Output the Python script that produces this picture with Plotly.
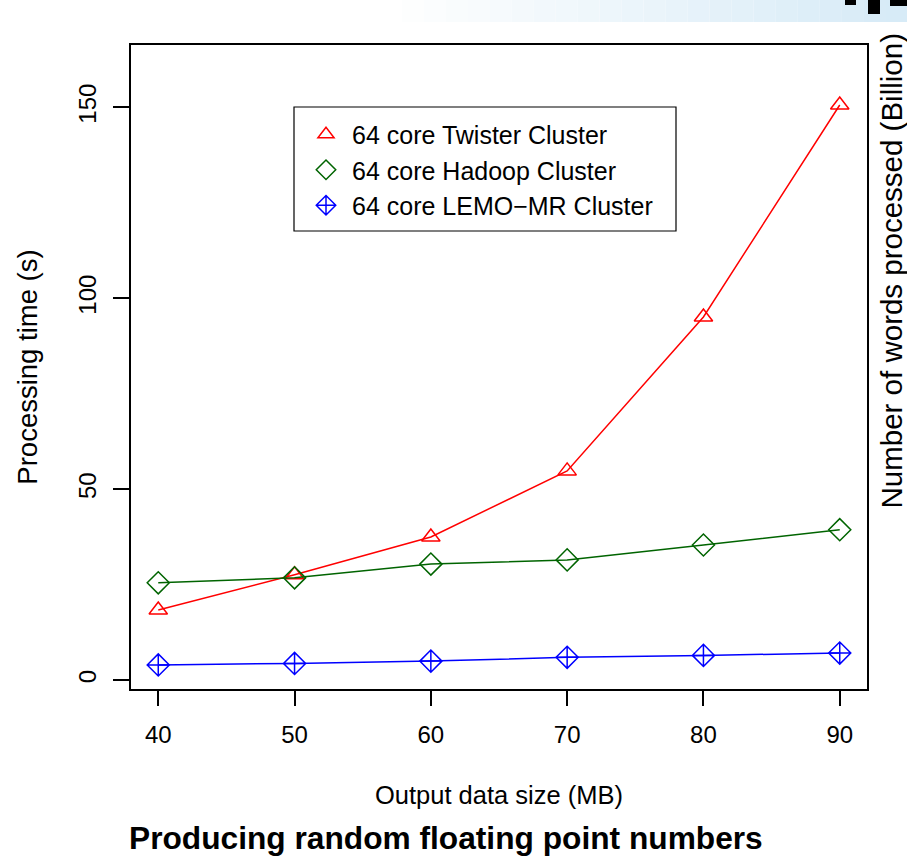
import plotly.graph_objects as go

# ---- data ----
sizes_mb = [40, 50, 60, 70, 80, 90]
twister_s = [18.4, 27.6, 37.5, 54.8, 95.1, 150.6]
hadoop_s = [25.5, 26.8, 30.4, 31.5, 35.4, 39.4]
lemo_s = [4.0, 4.4, 5.0, 6.0, 6.5, 7.1]
series_names = ["64 core Twister Cluster", "64 core Hadoop Cluster", "64 core LEMO\u2212MR Cluster"]
y_ticks = [0, 50, 100, 150]

FONT = "Liberation Sans, Arial, Helvetica, sans-serif"
W, H = 907, 858
L, R, T, B = 131, 40, 45, 169
PW, PH = W - L - R, H - T - B


def px(xp):
    return (xp - L) / PW


def py(yp):
    return (H - B - yp) / PH


styles = [
    dict(color="#FF0000", symbol="triangle-up-open", size=16),
    dict(color="#006400", symbol="diamond-open", size=17),
    dict(color="#0000FF", symbol="diamond-cross-open", size=17),
]
values = [twister_s, hadoop_s, lemo_s]

fig = go.Figure()
for name, vals, st in zip(series_names, values, styles):
    fig.add_trace(go.Scatter(
        x=sizes_mb, y=vals, mode="lines+markers", showlegend=False,
        line=dict(color=st["color"], width=1.5),
        marker=dict(symbol=st["symbol"], size=st["size"], color=st["color"],
                    line=dict(color=st["color"], width=1.5)),
    ))
for name, st in zip(series_names, styles):
    fig.add_trace(go.Scatter(
        x=[None], y=[None], mode="markers", name=name,
        marker=dict(symbol=st["symbol"], size=st["size"] - 2, color=st["color"],
                    line=dict(color=st["color"], width=1.5)),
    ))

shapes = []
# faint blue gradient band at the top right (artifact of the source image)
n = 24
x0, x1 = 380, 907
for i in range(n):
    f = i / (n - 1)
    r = int(255 - 40 * f)
    g = int(255 - 20 * f)
    b = int(255 - 8 * f)
    shapes.append(dict(type="rect", xref="paper", yref="paper",
                       x0=px(x0 + (x1 - x0) * i / n), x1=px(x0 + (x1 - x0) * (i + 1) / n),
                       y0=py(22), y1=py(0), fillcolor=f"rgb({r},{g},{b})",
                       line=dict(width=0), layer="below"))
for (a, b_, c, d) in [(845, 856, 0, 5), (868, 880, 0, 14), (890, 907, 0, 6)]:
    shapes.append(dict(type="rect", xref="paper", yref="paper",
                       x0=px(a), x1=px(b_), y0=py(d), y1=py(c),
                       fillcolor="black", line=dict(width=0)))
# legend frame
shapes.append(dict(type="rect", xref="paper", yref="paper",
                   x0=px(294), x1=px(676), y0=py(231), y1=py(107),
                   fillcolor="white", line=dict(color="black", width=1.2), layer="below"))

annotations = [
    dict(text="<b>Producing random floating point numbers</b>", xref="paper", yref="paper",
         x=px(446), y=py(838), xanchor="center", yanchor="middle", showarrow=False,
         font=dict(family=FONT, size=31.7, color="black")),
    dict(text="Number of words processed (Billion)", xref="paper", yref="paper",
         x=px(891), y=py(511), xanchor="center", yanchor="bottom", showarrow=False,
         textangle=-90, font=dict(family=FONT, size=29.5, color="black")),
]

fig.update_layout(
    width=W, height=H,
    margin=dict(l=L, r=R, t=T, b=B, pad=0),
    paper_bgcolor="white", plot_bgcolor="white",
    font=dict(family=FONT, size=24, color="black"),
    xaxis=dict(range=[38, 92], tickvals=sizes_mb, ticks="outside", ticklen=15,
               tickwidth=1.5, tickcolor="black", showline=True, mirror=True,
               linecolor="black", linewidth=1.5, showgrid=False, zeroline=False,
               tickfont=dict(size=24), ticklabelstandoff=8,
               title=dict(text="Output data size (MB)", font=dict(size=25.5), standoff=40)),
    yaxis=dict(range=[-2.3, 166.3], tickvals=y_ticks, ticks="outside", ticklen=16,
               tickwidth=1.5, tickcolor="black", showline=True, mirror=True,
               linecolor="black", linewidth=1.5, showgrid=False, zeroline=False,
               tickangle=-90, tickfont=dict(size=24), ticklabelstandoff=8,
               title=dict(text="Processing time (s)", font=dict(size=27.5), standoff=28)),
    legend=dict(x=px(300), y=py(170), xanchor="left", yanchor="middle",
                bgcolor="rgba(0,0,0,0)", borderwidth=0,
                font=dict(size=25), tracegroupgap=0, itemwidth=42),
    shapes=shapes,
    annotations=annotations,
)

fig.write_html("out.html")
